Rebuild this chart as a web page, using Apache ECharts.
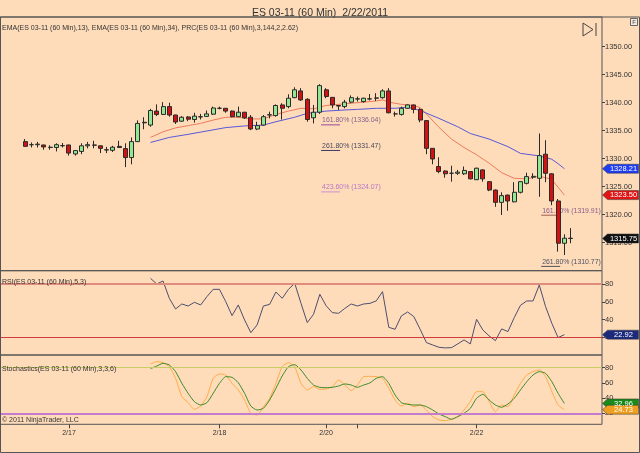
<!DOCTYPE html>
<html><head><meta charset="utf-8">
<script src="https://cdn.jsdelivr.net/npm/echarts@6/dist/echarts.min.js"></script>
<style>html,body{margin:0;padding:0;background:#fedcba}#c{width:640px;height:453px}</style>
</head><body><div id="c"></div><script>
const FONT = '"Liberation Sans", Arial, sans-serif';

// ---- price bars (60 min) ----
const opens  = [1333.05,1332.5,1332.5,1332.45,1332.0,1332.0,1332.3,1332.45,1330.85,1331.3,1332.3,1332.45,1332.3,1331.55,1331.5,1332.2,1331.8,1330.2,1333.05,1336.5,1336.0,1338.5,1337.9,1339.3,1337.8,1336.7,1337.45,1337.0,1337.45,1337.55,1337.95,1339.0,1339.0,1338.5,1337.5,1338.3,1337.4,1335.3,1336.0,1337.8,1337.7,1339.6,1339.3,1340.9,1342.1,1340.6,1337.3,1338.3,1342.3,1340.95,1339.5,1339.3,1340.1,1340.65,1340.2,1340.65,1340.8,1340.9,1342.1,1338.0,1337.9,1339.0,1339.6,1338.8,1336.8,1331.85,1328.6,1327.8,1327.4,1327.4,1327.3,1327.7,1326.25,1328.0,1325.9,1324.4,1322.2,1323.5,1322.3,1324.0,1325.6,1326.7,1326.5,1330.8,1327.3,1322.45,1314.9,1315.8];
const closes = [1332.2,1332.5,1332.6,1332.1,1332.05,1332.5,1332.35,1331.0,1331.45,1332.3,1332.5,1332.4,1331.85,1331.6,1332.05,1332.0,1330.2,1333.05,1336.3,1336.4,1338.6,1337.9,1339.3,1337.8,1336.55,1337.4,1337.05,1337.6,1337.5,1338.0,1339.05,1339.0,1338.5,1337.5,1338.3,1337.3,1335.3,1335.9,1337.5,1337.85,1339.5,1339.0,1340.8,1342.3,1340.5,1337.0,1338.3,1343.05,1341.1,1339.6,1339.4,1340.1,1340.9,1340.7,1340.8,1340.7,1340.85,1342.1,1338.2,1338.0,1339.0,1339.6,1338.8,1336.9,1331.85,1329.95,1327.7,1327.3,1327.4,1327.6,1327.9,1326.4,1328.3,1326.4,1324.4,1322.2,1323.4,1322.45,1324.0,1325.9,1326.8,1326.85,1330.55,1327.4,1322.45,1314.9,1315.8,1315.75];
const lows   = [1332.2,1332.0,1332.0,1331.6,1331.6,1331.3,1332.0,1330.55,1330.55,1330.8,1331.85,1331.85,1331.0,1331.0,1331.2,1331.95,1328.5,1329.0,1333.0,1335.25,1335.7,1337.6,1337.8,1337.5,1336.2,1336.55,1336.7,1336.45,1337.0,1337.45,1337.8,1338.8,1338.2,1337.4,1337.4,1337.1,1335.1,1335.1,1335.9,1337.2,1337.5,1337.0,1339.0,1340.8,1340.3,1336.6,1336.3,1338.0,1340.8,1339.0,1338.7,1339.0,1339.9,1340.2,1340.0,1340.4,1340.3,1340.7,1338.1,1337.5,1337.7,1338.9,1338.1,1336.5,1330.8,1329.0,1327.4,1326.6,1325.9,1327.1,1327.1,1326.3,1326.2,1325.9,1324.2,1321.4,1319.95,1320.7,1322.2,1323.8,1325.4,1326.4,1323.2,1325.8,1321.7,1313.4,1312.8,1314.9];
const highs  = [1333.5,1332.9,1333.0,1332.5,1332.4,1332.75,1332.8,1332.5,1331.5,1332.75,1333.0,1333.2,1332.35,1332.1,1332.3,1333.2,1332.75,1333.8,1336.85,1337.4,1338.9,1339.7,1340.1,1340.0,1337.85,1337.6,1337.6,1338.2,1338.0,1338.6,1339.3,1339.3,1339.05,1338.6,1339.3,1338.35,1337.8,1336.6,1337.8,1338.4,1339.7,1339.9,1341.5,1342.75,1342.6,1340.8,1339.6,1343.3,1342.6,1341.0,1339.6,1340.5,1341.3,1341.1,1340.9,1341.55,1341.7,1342.4,1342.6,1338.4,1339.3,1339.7,1339.65,1339.0,1336.9,1331.9,1330.25,1327.9,1328.75,1328.0,1328.6,1327.8,1328.4,1328.1,1326.0,1324.5,1324.0,1323.6,1325.8,1326.0,1327.5,1327.4,1334.5,1333.3,1327.4,1322.8,1316.5,1317.6];

// ---- moving averages (bar index, value) ----
const ema13Idx = [20,22,24,26,28,30,32,34,36,38,40,42,44,46,48,50,52,54,56,57,58,60,62,63,64,66,68,70,72,74,76,78,80,82,84,85,86];
const ema13Val = [1333.8,1334.8,1335.5,1335.9,1336.3,1336.9,1337.4,1337.4,1337.1,1337.1,1337.9,1338.5,1339.0,1338.9,1339.5,1339.7,1339.9,1340.1,1340.3,1340.5,1340.1,1339.7,1339.5,1339.1,1338.0,1335.6,1333.5,1332.0,1330.7,1329.2,1327.5,1326.5,1326.4,1326.9,1326.3,1324.9,1323.5];
const ema34Idx = [20,23,26,29,32,35,38,40,43,45,48,51,53,56,59,61,63,66,69,71,74,77,79,82,84,85,86];
const ema34Val = [1332.9,1333.8,1334.35,1334.95,1335.55,1335.85,1336.0,1336.6,1337.4,1338.1,1338.5,1338.7,1338.8,1339.0,1339.0,1339.2,1338.6,1337.2,1335.7,1334.5,1333.5,1332.15,1330.95,1330.5,1329.9,1329.1,1328.21];

// ---- oscillators, from bar 20 to bar 86 ----
const oscStart = 20;
const rsiVals = [86.4,80.0,83.4,63.9,51.9,57.5,55.2,59.4,56.4,65.8,74.0,74.0,60.1,44.4,56.4,39.5,25.2,33.9,55.2,57.1,71.0,63.9,74.0,80.8,58.2,36.5,45.9,68.4,55.6,47.7,47.0,52.6,57.5,55.2,57.5,58.2,61.0,71.4,31.2,29.0,44.0,48.5,43.2,29.0,14.0,11.3,8.7,8.0,8.3,12.5,17.0,12.5,40.2,28.2,21.5,16.2,29.4,26.4,42.1,56.0,60.9,60.9,78.9,54.5,35.7,19.6,22.92];
const stochD = [78.7,82.2,85.7,83.6,74.8,59.4,46.3,35.3,30.9,34.0,46.3,59.4,68.2,67.3,60.3,46.3,29.6,24.3,26.5,37.5,52.8,69.1,81.3,84.0,77.0,66.0,57.2,54.2,53.7,54.2,55.9,58.6,57.2,54.2,57.2,60.0,66.0,68.2,59.4,44.1,34.0,31.8,30.9,30.9,28.7,24.3,19.1,15.6,12.1,15.6,19.9,26.5,39.7,45.0,37.5,30.9,27.9,32.2,39.7,50.7,61.6,70.4,74.8,72.6,61.6,46.3,32.96];
const stochK = [84.9,88.0,86.6,81.3,66.0,41.9,34.0,25.2,29.6,41.9,66.0,71.7,70.4,59.4,50.7,37.5,20.0,17.8,28.7,39.7,59.4,81.3,86.6,81.3,59.4,50.7,55.1,51.6,52.0,55.1,63.8,57.2,49.8,57.2,68.2,68.6,68.2,66.0,52.8,37.5,29.6,33.1,28.7,30.9,24.3,15.6,11.2,10.3,12.1,15.6,24.3,35.3,48.5,48.5,35.3,22.1,30.9,28.7,44.1,59.4,70.4,74.8,77.0,68.2,48.5,30.9,24.73];

// ---- axes ----
const dateTicks  = [7,31,48,53,72];
const dateLabels = ['2/17','2/18','2/20','','2/22'];
const priceTicks = [1315,1320,1325,1330,1335,1340,1345,1350];
const oscTicks   = [20,40,60,80];

// ---- fib projections (PRC) ----
const fibPct    = ['161.80%','261.80%','423.60%','161.80%','261.80%'];
const fibPrice  = [1336.04,1331.47,1324.07,1319.91,1310.77];
const fibAnchor = [47.2,47.2,47.2,82.3,82.3];
const fibText   = ['#86608a','#47475a','#b878c4','#8a5a8a','#505060'];
const fibLine   = ['#9a4a9a','#3a3a66','#d090d0','#a05a5a','#505060'];

const dom = document.getElementById('c');
const chart = echarts.init(dom, null, {renderer:'canvas'});

const candleData = opens.map((o,i)=>[i,o,closes[i],lows[i],highs[i]]);
const pairs = (idx,val)=>idx.map((x,i)=>[x,val[i]]);
const osc = vals=>vals.map((v,i)=>[oscStart+i,v]);

const gridBase = {left:0, width:602, show:true, borderColor:'#555', borderWidth:1, backgroundColor:'transparent'};
const xAx = k => ({
  type:'value', gridIndex:k, min:-4, max:92,
  axisLine:{show:false, onZero:false}, splitLine:{show:false},
  axisTick:{show:k===2, customValues:dateTicks, length:4, lineStyle:{color:'#444'}},
  axisLabel:{show:k===2, customValues:dateTicks, margin:5, fontSize:7, color:'#333', fontFamily:FONT,
    formatter:v=>{const j=dateTicks.indexOf(Math.round(v)); return j>=0?dateLabels[j]:'';}}
});
const yAx = (k,min,max,ticks,fmt) => ({
  type:'value', gridIndex:k, position:'right', min:min, max:max,
  axisLine:{show:false, onZero:false}, splitLine:{show:false},
  axisTick:{show:true, inside:false, length:3, customValues:ticks, lineStyle:{color:'#444'}},
  axisLabel:{customValues:ticks, margin:3, fontSize:7.5, color:'#333', fontFamily:FONT, formatter:fmt}
});

chart.setOption({
  backgroundColor:'#fedcba',
  animation:false,
  title:{text:'ES 03-11 (60 Min)  2/22/2011', left:'center', top:3,
    textStyle:{fontFamily:FONT, fontSize:10.5, fontWeight:'normal', color:'#333'}},
  grid:[
    Object.assign({top:17, height:253.7}, gridBase),
    Object.assign({top:270.7, height:84.3}, gridBase),
    Object.assign({top:355, height:69.3}, gridBase)
  ],
  xAxis:[xAx(0),xAx(1),xAx(2)],
  yAxis:[
    yAx(0,1310,1355.3,priceTicks,v=>v.toFixed(2)),
    yAx(1,0,95,oscTicks,v=>String(v)),
    yAx(2,5.5,96.7,oscTicks,v=>String(v))
  ],
  series:[
    {type:'candlestick', xAxisIndex:0, yAxisIndex:0, barWidth:4.5,
     dimensions:['idx','open','close','lowest','highest'],
     encode:{x:'idx', y:['open','close','lowest','highest']},
     itemStyle:{color:'#92e892', color0:'#d21212', borderColor:'#2a2a2a', borderColor0:'#2a2a2a', borderWidth:1},
     data:candleData, z:3},
    {type:'line', xAxisIndex:0, yAxisIndex:0, data:pairs(ema13Idx,ema13Val), showSymbol:false,
     lineStyle:{color:'#ee7a5c', width:1}, z:2},
    {type:'line', xAxisIndex:0, yAxisIndex:0, data:pairs(ema34Idx,ema34Val), showSymbol:false,
     lineStyle:{color:'#5a58d8', width:1}, z:2},
    {type:'line', xAxisIndex:1, yAxisIndex:1, data:osc(rsiVals), showSymbol:false,
     lineStyle:{color:'#4e4e6e', width:1},
     markLine:{silent:true, symbol:'none', label:{show:false},
       data:[{yAxis:80, lineStyle:{color:'#e08c7c', width:2, type:'solid'}},
             {yAxis:20, lineStyle:{color:'#d23c3c', width:1, type:'solid'}}]}},
    {type:'line', xAxisIndex:2, yAxisIndex:2, data:osc(stochK), showSymbol:false, smooth:0.2,
     lineStyle:{color:'#ffac44', width:1},
     markLine:{silent:true, symbol:'none', label:{show:false},
       data:[{yAxis:80, lineStyle:{color:'#c8cc66', width:1, type:'solid'}},
             {yAxis:20, lineStyle:{color:'#c47ccc', width:2, type:'solid'}}]}},
    {type:'line', xAxisIndex:2, yAxisIndex:2, data:osc(stochD), showSymbol:false, smooth:0.2,
     lineStyle:{color:'#3a8a2a', width:1}}
  ]
});

// ---- overlay texts, tags and chrome ----
const g = [];
const txt = (x,y,text,size,fill,align,z)=>({type:'text', x:x, y:y, z:z||50, silent:true,
  style:{text:text, fill:fill, font:size+'px '+FONT, align:align||'left', verticalAlign:'middle',
         textAlign:align||'left', textVerticalAlign:'middle'}});

g.push({type:'rect', silent:true, z:40, shape:{x:0.5,y:17,width:639,height:435.5}, style:{fill:null, stroke:'#555', lineWidth:1}});
g.push(txt(2,28,'EMA(ES 03-11 (60 Min),13), EMA(ES 03-11 (60 Min),34), PRC(ES 03-11 (60 Min),3,144,2,2.62)',7,'#333'));
g.push(txt(2,282,'RSI(ES 03-11 (60 Min),5,3)',7,'#333'));
g.push(txt(2,369,'Stochastics(ES 03-11 (60 Min),3,3,6)',7,'#333'));
g.push(txt(2,420,'\u00a9 2011 NinjaTrader, LLC',7,'#333'));
g.push({type:'polygon', silent:true, z:50, shape:{points:[[583,23],[593,29.5],[583,36]]}, style:{fill:null, stroke:'#444', lineWidth:1}});
g.push({type:'line', silent:true, z:50, shape:{x1:596,y1:23,x2:596,y2:36}, style:{stroke:'#444', lineWidth:1}});
g.push({type:'rect', silent:true, z:50, shape:{x:630.5,y:18.5,width:7,height:7}, style:{fill:'#f6ebe0', stroke:'#666', lineWidth:1}});
g.push(txt(634,22.3,'F',6,'#444','center'));

// fib labels, placed through the chart's own scales
fibPrice.forEach((p,i)=>{
  const pt = chart.convertToPixel({xAxisIndex:0, yAxisIndex:0},[fibAnchor[i],p]);
  g.push({type:'line', silent:true, z:1, shape:{x1:pt[0],y1:pt[1],x2:pt[0]+19,y2:pt[1]}, style:{stroke:fibLine[i], lineWidth:1}});
  g.push(txt(pt[0]+1, pt[1]-4.6, fibPct[i]+' ('+p.toFixed(2)+')', 6.9, fibText[i], 'left', 1));
});

// last-value tags
function tag(yAxisIndex, v, fill, color){
  const y = chart.convertToPixel({yAxisIndex:yAxisIndex}, v);
  const x0 = 602.5;
  g.push({type:'polygon', silent:true, z:60, shape:{points:[[x0,y],[x0+5,y-4.5],[x0+36,y-4.5],[x0+36,y+4.5],[x0+5,y+4.5]]},
          style:{fill:fill, stroke:'#333', lineWidth:0.5}});
  g.push(txt(x0+21, y+0.3, v.toFixed(2), 7.5, color, 'center', 61));
}
tag(0, ema34Val[ema34Val.length-1], '#1f3cf0', '#fff');
tag(0, ema13Val[ema13Val.length-1], '#e01414', '#fff');
tag(0, closes[closes.length-1], '#111', '#fff');
tag(1, rsiVals[rsiVals.length-1], '#1c2a7c', '#fff');
tag(2, stochD[stochD.length-1], '#1a8a1a', '#fff');
tag(2, stochK[stochK.length-1], '#f0a020', '#fff');

chart.setOption({graphic:g});
</script></body></html>
